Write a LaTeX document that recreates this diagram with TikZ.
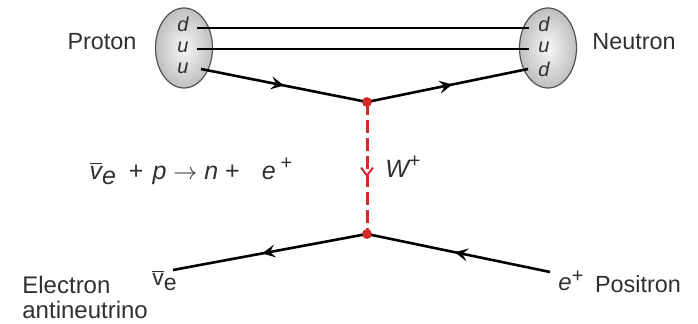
\documentclass[tikz,border=0pt]{standalone}
\usepackage{fontspec}
\setmainfont{Liberation Sans}
\usetikzlibrary{shapes.geometric,arrows.meta,decorations.markings}
\definecolor{wred}{HTML}{D42A2A}
\definecolor{txt}{HTML}{303030}
\newcommand{\supplus}[1]{\raisebox{#1}{\fontsize{10}{10}\selectfont\upshape +}}
\begin{document}
\begin{tikzpicture}[x=0.5pt,y=-0.5pt,
  hadron/.style={ellipse, minimum width=28.5pt, minimum height=40pt, inner sep=0pt,
    draw=gray!65!black, line width=0.6pt, inner color=gray!6, outer color=gray!50},
  quark/.style={font=\fontsize{10}{10}\selectfont\itshape, inner sep=0pt, text=txt},
  lbl/.style={font=\fontsize{11.7}{13}\selectfont, text=txt, inner sep=0pt},
  fermion/.style={line width=1.3pt, postaction={decorate},
    decoration={markings, mark=at position #1 with {\arrow{Stealth[length=6.5pt,width=6.5pt,inset=2.6pt]}}}},
  fermion/.default=0.5,
  boson/.style={wred, line width=1.5pt, dash pattern=on 6.5pt off 2.5pt, postaction={decorate},
    decoration={markings, mark=at position 0.57 with {\arrow[solid,line width=1pt]{Straight Barb[length=4pt,width=6pt]}}}},
  vtx/.style={circle, fill=wred, inner sep=0pt, minimum size=4.8pt}
]
\path[use as bounding box] (0,0) rectangle (698,324);

% hadrons
\node[hadron] (proton) at (184,48) {};
\node[hadron] (neutron) at (548,48) {};

% quark contents
\node[quark] (pd)  at (183,24) {d};
\node[quark] (pu1) at (183,47) {u};
\node[quark] (pu2) at (183,68) {u};
\node[quark] (nd1) at (544,24) {d};
\node[quark] (nu)  at (544,47) {u};
\node[quark] (nd2) at (544,69) {d};

% quark line ends
\coordinate (pa) at (197,28);
\coordinate (pb) at (197,49);
\coordinate (pc) at (201,69);
\coordinate (na) at (529,28);
\coordinate (nb) at (529,49);
\coordinate (nc) at (528,69);

% vertices
\node[vtx] (top) at (367,102) {};
\node[vtx] (bot) at (367,234) {};

% lepton ends
\coordinate (nuend) at (173,270);
\coordinate (eend) at (550,272);

% spectator quarks
\draw[line width=1.3pt] (pa) -- (na);
\draw[line width=1.3pt] (pb) -- (nb);

% fermion lines
\draw[fermion=0.5] (pc) -- (top.center);
\draw[fermion=0.53] (top.center) -- (nc);
\draw[fermion=0.54] (bot.center) -- (nuend);
\draw[fermion=0.52] (eend) -- (bot.center);

% W boson
\draw[boson] (top.center) -- (bot.center);
\node[vtx] at (top) {};
\node[vtx] at (bot) {};

% labels
\node[lbl] (plbl) at (102,42) {Proton};
\node[lbl] (nlbl) at (634,42) {Neutron};
\node[lbl, font=\fontsize{12.5}{13}\selectfont\itshape] (wlbl) at (403,167) {W\supplus{5pt}};
\node[lbl, font=\fontsize{12.5}{13}\selectfont] (eq) at (191,171)
  {$\overline{\mbox{\itshape v}}_{\mbox{\itshape e}}$\hspace{2.5pt} + \hspace{1pt}{\itshape p} $\rightarrow$ {\itshape n} +\hspace{11pt}{\itshape e}\hspace{2.5pt}\supplus{5pt}};
\node[lbl, anchor=west, align=left, font=\fontsize{12}{12.5}\selectfont] (elbl) at (22,297) {Electron\\antineutrino};
\node[lbl, font=\fontsize{11.5}{13}\selectfont] (nubar) at (165,280) {$\overline{\mbox{v}}_{\mbox{e}}$};
\node[lbl, font=\fontsize{12}{13}\selectfont\itshape] (epl) at (571,281) {e\supplus{4pt}};
\node[lbl] (poslbl) at (638,284) {Positron};
\end{tikzpicture}
\end{document}
